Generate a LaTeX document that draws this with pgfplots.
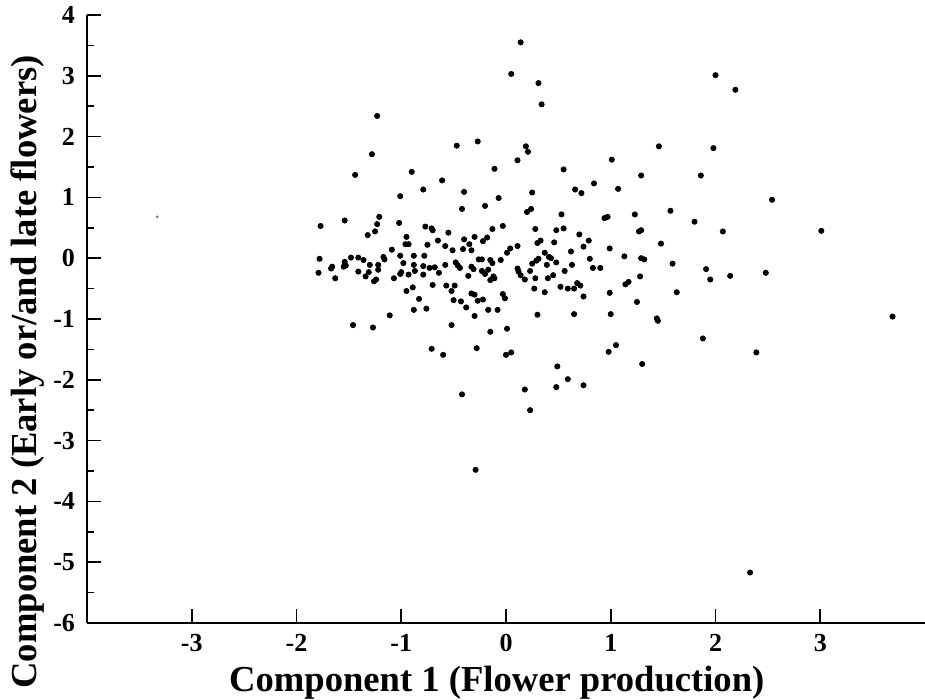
\documentclass[border=0pt]{standalone}
\usepackage{fontspec}
\setmainfont{Liberation Serif}
\usepackage{pgfplots}
\pgfplotsset{compat=1.18}
\begin{document}
\begin{tikzpicture}
\useasboundingbox (-43.5pt,-38.5pt) rectangle (419pt,311.5pt);
\begin{axis}[
  at={(0,0)}, anchor=south west,
  scale only axis, width=419pt, height=304pt,
  xmin=-4, xmax=4, ymin=-6, ymax=4,
  axis lines*=left,
  axis line style={line width=0.9pt, -},
  clip=false,
  xtick={-3,-2,-1,0,1,2,3},
  xticklabels={-3,-2,-1,0,1,2,3},
  ytick={-6,-5,-4,-3,-2,-1,0,1,2,3,4},
  yticklabels={-6,-5,-4,-3,-2,-1,0,1,2,3,4},
  minor ytick={-5.5,-4.5,-3.5,-2.5,-1.5,-0.5,0.5,1.5,2.5,3.5},
  tick align=inside,
  major tick length=7pt, minor tick length=3.5pt,
  every tick/.style={black, line width=0.8pt},
  tick label style={font=\bfseries\fontsize{13}{15}\selectfont},
  yticklabel style={xshift=-2.5pt},
  xticklabel style={yshift=-2pt},
  label style={font=\bfseries\fontsize{18.3}{20}\selectfont},
  xlabel={Component 1 (Flower production)},
  ylabel={Component 2 (Early or/and late flowers)},
  xlabel style={at={(axis description cs:0.489,-0.0987)}, anchor=center},
  ylabel style={at={(axis description cs:-0.071,0.413)}, anchor=center},
]
\addplot[only marks, mark=*, mark size=1.3pt, black] coordinates {
(0.14,3.55) (0.05,3.03) (0.31,2.88) (0.34,2.53) (-1.23,2.34) (-1.28,1.71)
(-0.47,1.85) (-0.27,1.92) (0.19,1.84) (0.21,1.75) (0.11,1.61) (-1.44,1.37)
(-0.90,1.42) (-0.61,1.28) (-0.11,1.47) (0.55,1.46) (1.01,1.62) (0.84,1.23)
(0.66,1.13) (0.72,1.07) (1.07,1.14) (-1.01,1.02) (-0.79,1.13) (-0.40,1.09)
(-0.07,0.99) (0.25,1.08) (-0.42,0.81) (-0.20,0.86) (0.20,0.76) (0.24,0.81)
(0.53,0.72) (0.94,0.66) (0.97,0.68) (-1.77,0.53) (-1.54,0.62) (-1.21,0.68)
(-1.23,0.56) (-1.25,0.44) (-1.32,0.38) (-1.02,0.58) (-0.77,0.52) (-0.71,0.49)
(-0.70,0.46) (-0.95,0.35) (-0.96,0.23) (-0.93,0.23) (-1.09,0.14) (-0.75,0.22)
(-0.65,0.29) (-0.55,0.42) (-0.58,0.20) (-0.51,0.13) (-0.40,0.31) (-0.41,0.15)
(-0.35,0.23) (-0.33,0.13) (-0.30,0.35) (-0.22,0.28) (-0.18,0.34) (-0.13,0.48)
(-0.03,0.53) (0.01,0.09) (0.04,0.16) (0.11,0.20) (0.28,0.48) (0.30,0.25)
(0.33,0.29) (0.48,0.46) (0.55,0.49) (0.70,0.39) (0.79,0.29) (0.46,0.26)
(0.74,0.19) (0.99,0.16) (0.37,0.09) (0.41,0.02) (0.43,0.00) (0.62,0.11)
(0.80,-0.01) (0.29,-0.04) (0.31,-0.01) (0.25,-0.09) (0.39,-0.11) (0.48,-0.07)
(0.63,-0.11) (0.83,-0.16) (0.90,-0.16) (0.56,-0.21) (0.28,-0.33) (0.40,-0.33)
(0.45,-0.28) (0.11,-0.17) (0.12,-0.22) (0.14,-0.28) (0.18,-0.35) (0.23,-0.21)
(-0.05,-0.03) (-0.15,-0.03) (-0.13,-0.08) (-0.26,-0.02) (-0.23,-0.02) (-0.33,-0.14)
(-0.31,-0.18) (-0.23,-0.21) (-0.20,-0.26) (-0.17,-0.19) (-0.12,-0.30) (-0.11,-0.33)
(-0.15,-0.36) (-0.36,-0.29) (-0.48,-0.07) (-0.46,-0.12) (-0.44,-0.16) (-0.58,-0.11)
(-0.64,-0.24) (-0.68,-0.15) (-0.73,-0.16) (-0.79,-0.27) (-0.79,-0.13) (-0.88,0.04)
(-0.78,0.04) (-0.88,-0.11) (-0.87,-0.21) (-0.93,-0.27) (-0.98,-0.08) (-1.01,0.04)
(-1.00,-0.23) (-1.01,-0.26) (-1.07,-0.33) (-1.17,0.02) (-1.16,-0.02) (-1.22,-0.11)
(-1.22,-0.19) (-1.26,-0.38) (-1.24,-0.35) (-1.30,-0.11) (-1.31,-0.23) (-1.34,-0.30)
(-1.41,-0.22) (-1.41,0.01) (-1.36,-0.03) (-1.48,0.01) (-1.54,-0.06) (-1.53,-0.12)
(-1.55,-0.14) (-1.67,-0.17) (-1.66,-0.14) (-1.63,-0.33) (-1.78,-0.01) (-1.79,-0.24)
(-0.70,-0.44) (-0.89,-0.48) (-0.95,-0.54) (-0.83,-0.67) (-0.88,-0.85) (-0.76,-0.83)
(-0.57,-0.45) (-0.49,-0.45) (-0.52,-0.54) (-0.50,-0.69) (-0.43,-0.71) (-0.33,-0.58)
(-0.30,-0.60) (-0.38,-0.81) (-0.27,-0.70) (-0.22,-0.68) (-0.17,-0.85) (-0.08,-0.85)
(-0.30,-0.95) (-0.03,-0.59) (-0.01,-0.66) (0.27,-0.50) (0.37,-0.56) (0.52,-0.47)
(0.59,-0.50) (0.65,-0.50) (0.68,-0.41) (0.71,-0.45) (0.74,-0.63) (0.99,-0.57)
(0.30,-0.93) (0.65,-0.92) (1.00,-0.92) (-1.11,-0.94) (-1.46,-1.10) (-1.27,-1.14)
(-0.52,-1.10) (-0.15,-1.21) (0.01,-1.16) (-0.71,-1.49) (-0.28,-1.48) (1.05,-1.43)
(-0.60,-1.59) (0.00,-1.59) (0.05,-1.55) (0.98,-1.54) (0.49,-1.78) (0.59,-1.99)
(0.48,-2.12) (0.74,-2.09) (-0.42,-2.24) (0.18,-2.16) (0.23,-2.50) (-0.29,-3.48)
(2.00,3.01) (2.19,2.77) (1.46,1.84) (1.98,1.81) (1.29,1.36) (1.86,1.36)
(2.54,0.96) (1.57,0.78) (1.80,0.60) (1.23,0.72) (1.27,0.44) (1.29,0.46)
(2.07,0.44) (3.01,0.45) (1.48,0.24) (1.13,0.03) (1.29,0.00) (1.32,-0.02)
(1.59,-0.09) (1.91,-0.18) (1.95,-0.35) (2.14,-0.29) (2.48,-0.24) (1.28,-0.30)
(1.14,-0.43) (1.17,-0.39) (1.25,-0.72) (1.63,-0.56) (1.44,-0.99) (1.45,-1.03)
(3.69,-0.96) (1.88,-1.32) (1.30,-1.74) (2.39,-1.55) (2.33,-5.17)
};
\addplot[only marks, mark=*, mark size=0.5pt, gray] coordinates {(-3.33,0.68)};
\end{axis}
\end{tikzpicture}
\end{document}
